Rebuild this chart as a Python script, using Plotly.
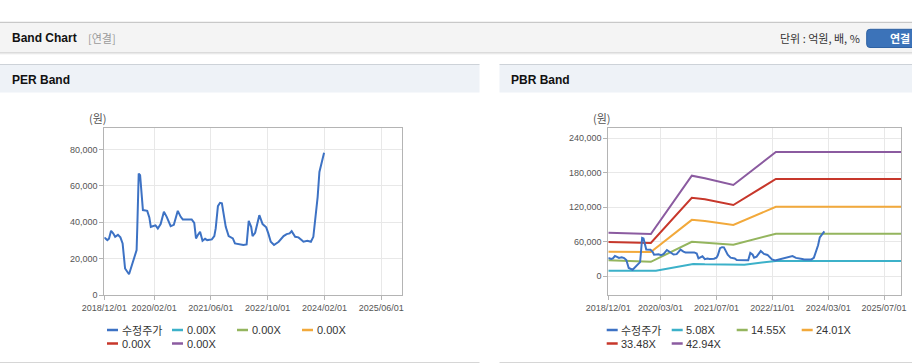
import plotly.graph_objects as go

# ---------------- data ----------------
price_dates = [
    "2018-12-01", "2018-12-27", "2019-01-10", "2019-01-28", "2019-02-15", "2019-03-04",
    "2019-03-28", "2019-04-18", "2019-05-07", "2019-05-17", "2019-05-28", "2019-07-01",
    "2019-07-25", "2019-08-17", "2019-09-04", "2019-09-10", "2019-09-16", "2019-09-22",
    "2019-10-04", "2019-10-10", "2019-10-16", "2019-10-28", "2019-12-04", "2019-12-22",
    "2020-01-04", "2020-01-25", "2020-02-13", "2020-03-04", "2020-03-28", "2020-04-25",
    "2020-05-19", "2020-06-22", "2020-07-19", "2020-08-22", "2020-09-16", "2020-10-04",
    "2020-12-19", "2021-01-10", "2021-01-25", "2021-02-10", "2021-03-01", "2021-03-22",
    "2021-04-13", "2021-05-01", "2021-06-10", "2021-07-01", "2021-07-13", "2021-08-01",
    "2021-08-19", "2021-09-04", "2021-09-19", "2021-10-07", "2021-11-01", "2021-12-07",
    "2021-12-25", "2022-02-07", "2022-03-07", "2022-04-04", "2022-04-22", "2022-05-13",
    "2022-05-25", "2022-06-16", "2022-07-22", "2022-08-19", "2022-09-19", "2022-10-07",
    "2022-10-28", "2022-11-25", "2023-01-04", "2023-02-15", "2023-03-13", "2023-04-07",
    "2023-04-25", "2023-05-25", "2023-06-22", "2023-07-19", "2023-08-04", "2023-09-07",
    "2023-10-07", "2023-10-28", "2023-11-13", "2023-12-04", "2023-12-19", "2024-01-10",
    "2024-01-28",
]
price_values = [
    31700, 30200, 31000, 35300, 33900, 32000,
    33100, 31700, 28400, 22000, 14600, 11400,
    16500, 21000, 24700, 37500, 52200, 66800,
    65900, 59500, 54900, 46700, 46300, 42700,
    37500, 37900, 38300, 36600, 39000, 45800,
    43000, 37900, 38600, 46300, 43000, 41600,
    41600, 39700, 31100, 33000, 34800, 29800,
    30900, 30200, 30600, 32400, 36600, 48900,
    50700, 50400, 44900, 37500, 32400, 31100,
    28400, 27800, 27500, 27800, 40800, 37500,
    32400, 34200, 43900, 39000, 37200, 33900,
    29300, 27500, 29300, 32400, 33500, 33900,
    35100, 32000, 31700, 30200, 29300, 29800,
    29300, 32000, 41200, 54000, 67700, 73200,
    78200,
]

band_dates = ["2018-12-01", "2019-12-07", "2020-11-28", "2021-03-22",
              "2021-11-25", "2022-12-01", "2025-11-30"]
band_dates_low = ["2018-12-01", "2020-01-20", "2020-12-10", "2021-03-22",
                  "2022-03-01", "2022-12-01", "2025-11-30"]
pbr_5_08 = [9500, 9500, 21500, 20800, 20200, 26800, 26800]
pbr_14_55 = [27800, 25200, 60000, 58500, 55000, 74000, 74000]
pbr_24_01 = [42500, 42300, 98200, 96200, 89200, 120800, 120800]
pbr_33_48 = [59800, 57900, 136700, 133900, 124000, 169200, 169200]
pbr_42_94 = [75800, 73600, 175000, 170400, 158800, 216200, 216200]

per_names = ["수정주가", "0.00X", "0.00X", "0.00X", "0.00X", "0.00X"]
pbr_names = ["수정주가", "5.08X", "14.55X", "24.01X", "33.48X", "42.94X"]
series_colors = ["#3d72c4", "#3cb1c9", "#94b55e", "#f2a93b", "#c7372b", "#8b5ba0"]

per_tick_dates = ["2018-12-01", "2020-02-01", "2021-06-01", "2022-10-01", "2024-02-01", "2025-06-01"]
per_tick_text = ["2018/12/01", "2020/02/01", "2021/06/01", "2022/10/01", "2024/02/01", "2025/06/01"]
pbr_tick_dates = ["2018-12-01", "2020-03-01", "2021-07-01", "2022-11-01", "2024-03-01", "2025-07-01"]
pbr_tick_text = ["2018/12/01", "2020/03/01", "2021/07/01", "2022/11/01", "2024/03/01", "2025/07/01"]
per_y_ticks = [0, 20000, 40000, 60000, 80000]
pbr_y_ticks = [0, 60000, 120000, 180000, 240000]

# ---------------- figure ----------------
W, H = 912, 364
FONT = "Liberation Sans, Arial, Noto Sans CJK KR, sans-serif"
KFONT = "Noto Sans CJK KR, Liberation Sans, sans-serif"


def px(x):
    return x / W


def py(y):
    return 1 - y / H


fig = go.Figure()

# PER chart traces
fig.add_trace(go.Scatter(x=price_dates, y=price_values, mode="lines",
                         line=dict(color=series_colors[0], width=2),
                         xaxis="x", yaxis="y", showlegend=False, name=per_names[0]))
for i in range(1, 6):
    fig.add_trace(go.Scatter(x=[], y=[], mode="lines",
                             line=dict(color=series_colors[i], width=2),
                             xaxis="x", yaxis="y", showlegend=False, name=per_names[i]))

# PBR chart traces
pbr_bands = [(band_dates_low, pbr_5_08), (band_dates, pbr_14_55), (band_dates, pbr_24_01),
             (band_dates, pbr_33_48), (band_dates, pbr_42_94)]
for i, (d, v) in enumerate(pbr_bands, start=1):
    fig.add_trace(go.Scatter(x=d, y=v, mode="lines",
                             line=dict(color=series_colors[i], width=2),
                             xaxis="x2", yaxis="y2", showlegend=False, name=pbr_names[i]))
fig.add_trace(go.Scatter(x=price_dates, y=price_values, mode="lines",
                         line=dict(color=series_colors[0], width=2),
                         xaxis="x2", yaxis="y2", showlegend=False, name=pbr_names[0]))

axis_common = dict(showline=True, mirror=True, linecolor="#b4b4b4", linewidth=1,
                   showgrid=True, gridcolor="#e8e8e8", gridwidth=1, ticks="outside", ticklen=4,
                   tickcolor="#b4b4b4", tickfont=dict(family=FONT, size=9, color="#555555"),
                   zeroline=False, fixedrange=True, automargin=False)

x_range = ["2018-12-01", "2025-11-26"]
fig.update_layout(
    template="none",
    width=W, height=H, margin=dict(l=0, r=0, t=0, b=0, pad=0, autoexpand=False),
    paper_bgcolor="white", plot_bgcolor="white", showlegend=False,
    xaxis=dict(domain=[px(104.3), px(402)], anchor="y", type="date", range=x_range,
               tickmode="array", tickvals=per_tick_dates, ticktext=per_tick_text, **axis_common),
    yaxis=dict(domain=[py(295), py(128.3)], anchor="x", range=[0, 91700],
               tickmode="array", tickvals=per_y_ticks, tickformat=",d", **axis_common),
    xaxis2=dict(domain=[px(608.3), px(901)], anchor="y2", type="date", range=x_range,
                tickmode="array", tickvals=pbr_tick_dates, ticktext=pbr_tick_text, **axis_common),
    yaxis2=dict(domain=[py(295), py(128.3)], anchor="x2", range=[-32500, 257400],
                tickmode="array", tickvals=pbr_y_ticks, tickformat=",d", **axis_common),
)

shapes = []
annotations = []


def rect(x0, y0, x1, y1, fill):
    shapes.append(dict(type="rect", xref="paper", yref="paper",
                       x0=px(x0), x1=px(x1), y0=py(y1), y1=py(y0),
                       fillcolor=fill, line=dict(width=0), layer="below"))


def hline(x0, x1, y, color, width=1):
    shapes.append(dict(type="line", xref="paper", yref="paper",
                       x0=px(x0), x1=px(x1), y0=py(y), y1=py(y),
                       line=dict(color=color, width=width)))


def text(x, y, s, size=11, color="#333333", bold=False, anchor="left", family=KFONT):
    annotations.append(dict(xref="paper", yref="paper", x=px(x), y=py(y),
                            text=("<b>%s</b>" % s) if bold else s,
                            showarrow=False, xanchor=anchor, yanchor="middle",
                            font=dict(family=family, size=size, color=color), borderpad=0))


# top header bar
rect(0, 22, W, 52.5, "#f4f4f4")
hline(0, W, 22.3, "#bdbdbd")
hline(0, W, 52.8, "#cfcfcf")
hline(0, W, 53.8, "#e6e6e6")
text(10.5, 38.5, "Band Chart", size=12, color="#111111", bold=True, family=FONT)
text(87, 38.5, "[연결]", size=11, color="#9a9a9a")
text(860.5, 38.5, "단위 : 억원, 배, %", size=11, color="#333333", anchor="right")
# button
shapes.append(dict(type="path", xref="paper", yref="paper",
                   path="M %f %f L %f %f L %f %f L %f %f Q %f %f %f %f L %f %f Q %f %f %f %f Z" % (
                       px(870), py(29.3), px(913), py(29.3), px(913), py(47.5), px(870), py(47.5),
                       px(866.7), py(47.5), px(866.7), py(44.2), px(866.7), py(32.6),
                       px(866.7), py(29.3), px(870), py(29.3)),
                   fillcolor="#3c73b9", line=dict(color="#2f62a3", width=1)))
text(889, 38.3, "연결", size=11, color="#ffffff", bold=True)

# panel headers
for x0, x1, title in [(0, 479.5, "PER Band"), (499.5, W, "PBR Band")]:
    rect(x0, 64.5, x1, 92.5, "#eef2f7")
    hline(x0, x1, 64.5, "#cdd2d8")
    hline(x0, x1, 362.5, "#d6d6d6")
    text(x0 + 10.5, 80, title, size=12, color="#111111", bold=True, family=FONT)

# unit labels
text(88, 118, "(원)", size=11, color="#555555")
text(592, 118, "(원)", size=11, color="#555555")

# custom legends
for base_x, names in [(107, per_names), (606.7, pbr_names)]:
    for i, name in enumerate(names):
        col, row = i % 4, i // 4
        lx = base_x + 65 * col
        ly = 330 + 13.5 * row
        shapes.append(dict(type="line", xref="paper", yref="paper",
                           x0=px(lx), x1=px(lx + 11), y0=py(ly), y1=py(ly),
                           line=dict(color=series_colors[i], width=2.5)))
        text(lx + 13.5, ly, name, size=11, color="#333333",
             family=KFONT if i == 0 else FONT)

fig.update_layout(shapes=shapes, annotations=annotations)
fig.write_html("out.html", config={"displayModeBar": False},
               post_script="document.body.style.margin='0';document.body.style.overflow='hidden';")
